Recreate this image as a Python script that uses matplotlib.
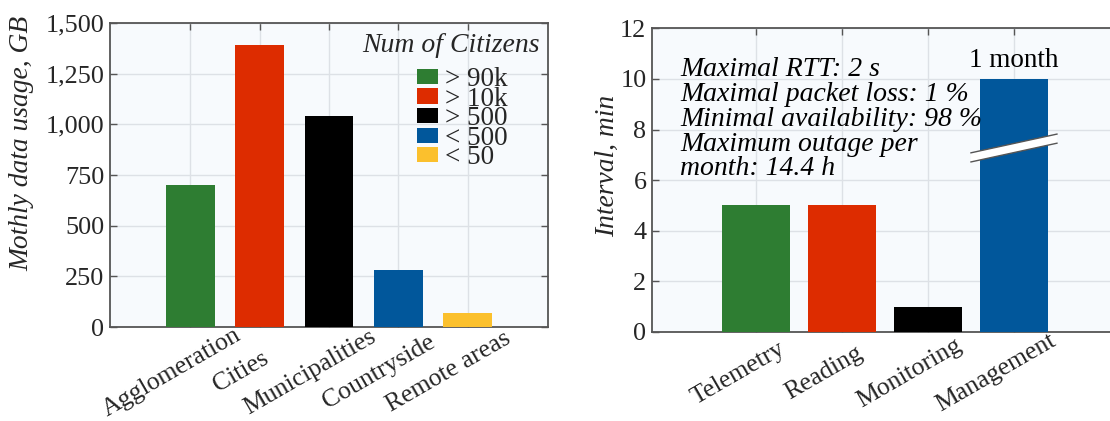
import matplotlib
matplotlib.use("Agg")
import matplotlib.pyplot as plt
from matplotlib.ticker import FuncFormatter, MultipleLocator
from matplotlib.transforms import ScaledTranslation
from matplotlib.patches import Polygon

# ---------------- data ----------------
areas = ["Agglomeration", "Cities", "Municipalities", "Countryside", "Remote areas"]
usage_gb = [700, 1390, 1040, 280, 70]
citizens = ["> 90k", "> 10k", "> 500", "< 500", "< 50"]

tasks = ["Telemetry", "Reading", "Monitoring", "Management"]
interval_min = [5, 5, 1, 10]
mgmt_note = "1 month"
requirements = ["Maximal RTT: 2 s", "Maximal packet loss: 1 %",
                "Minimal availability: 98 %", "Maximum outage per",
                "month: 14.4 h"]

colors5 = ["#2E7D32", "#DD2C00", "#000000", "#01579B", "#FBC02D"]
colors4 = ["#2E7D32", "#DD2C00", "#000000", "#01579B"]

# ---------------- style ----------------
plt.rcParams['font.family'] = ['Liberation Serif', 'DejaVu Serif']
TXT = "#262626"
BG = "#F7FAFD"
GRID = "#DDE1E6"
SPINE = "#555555"

fig = plt.figure(figsize=(11.10, 4.21), dpi=100)
W, H = 1110, 421


def ax_rect(l, t, r, b):
    return [l / W, (H - b) / H, (r - l) / W, (b - t) / H]


def style_axes(ax):
    ax.set_facecolor(BG)
    ax.set_axisbelow(True)
    ax.grid(True, color=GRID, linewidth=1.0)
    for s in ax.spines.values():
        s.set_color(SPINE)
        s.set_linewidth(1.3)
    ax.tick_params(direction='in', length=5, width=1.0, color=SPINE,
                   top=True, right=True, labelcolor=TXT)
    ax.tick_params(axis='y', labelsize=18.8, pad=4)


def rotate_labels(ax, fontsize, dx, dy):
    for lab in ax.get_xticklabels():
        lab.set_rotation(30)
        lab.set_rotation_mode('anchor')
        lab.set_ha('center')
        lab.set_va('center')
        lab.set_fontsize(fontsize)
        lab.set_transform(lab.get_transform() +
                          ScaledTranslation(dx / 100, dy / 100, fig.dpi_scale_trans))


# ---------------- left panel ----------------
ax1 = fig.add_axes(ax_rect(110, 23, 548, 327))
style_axes(ax1)
x1 = list(range(1, len(areas) + 1))
bars1 = ax1.bar(x1, usage_gb, width=0.7, color=colors5, zorder=3)
ax1.set_xlim(-0.16, 6.16)
ax1.set_ylim(0, 1500)
ax1.yaxis.set_major_locator(MultipleLocator(250))
ax1.yaxis.set_major_formatter(FuncFormatter(lambda v, p: f"{v:,.0f}"))
ax1.set_xticks(x1)
ax1.set_xticklabels(areas)
ax1.tick_params(axis='x', pad=0)
rotate_labels(ax1, 18.5, -19, -45)
ax1.set_ylabel("Mothly data usage, GB", fontsize=19.8, style='italic', color=TXT)
ax1.yaxis.set_label_coords(-0.1735, 0.605)

leg = ax1.legend(bars1, citizens, loc='upper left', bbox_to_anchor=(0.70, 0.855),
                 frameon=False, fontsize=19.5, handlelength=0.8, handleheight=0.48,
                 handletextpad=0.25, labelspacing=-0.2, borderpad=0, borderaxespad=0)
for t in leg.get_texts():
    t.set_color(TXT)
ax1.text(0.98, 0.925, "Num of Citizens", transform=ax1.transAxes, ha='right',
         va='center', fontsize=20, style='italic', color=TXT)

# ---------------- right panel ----------------
ax2 = fig.add_axes(ax_rect(652, 28.3, 1118, 332))
style_axes(ax2)
x2 = list(range(1, len(tasks) + 1))
bars2 = ax2.bar(x2, interval_min, width=0.8, color=colors4, zorder=3)
ax2.set_xlim(-0.21, 5.21)
ax2.set_ylim(0, 12)
ax2.yaxis.set_major_locator(MultipleLocator(2))
ax2.set_xticks(x2)
ax2.set_xticklabels(tasks)
ax2.tick_params(axis='x', pad=0)
rotate_labels(ax2, 18.5, -18, -41)
ax2.set_ylabel("Interval, min", fontsize=19.8, style='italic', color=TXT)
ax2.yaxis.set_label_coords(-0.0687, 0.547)

# annotation on management bar
xm = x2[-1]
ax2.annotate(mgmt_note, (xm, interval_min[-1]), xytext=(0, 4),
             textcoords='offset points', ha='center', va='bottom',
             fontsize=19.5, color='black')

# axis-break mark across management bar
yb, half, rise, hw = 7.27, 0.18, 0.74, 0.5
poly = Polygon([(xm - hw, yb - rise / 2 - half), (xm + hw, yb + rise / 2 - half),
                (xm + hw, yb + rise / 2 + half), (xm - hw, yb - rise / 2 + half)],
               closed=True, facecolor='white', edgecolor='none', zorder=4)
ax2.add_patch(poly)
for s in (-half, half):
    ax2.plot([xm - hw, xm + hw], [yb - rise / 2 + s, yb + rise / 2 + s],
             color=SPINE, linewidth=1.0, zorder=5)

ax2.text(0.06, 0.905, "\n".join(requirements), transform=ax2.transAxes,
         ha='left', va='top', fontsize=20, style='italic', color='black',
         linespacing=0.99)

fig.savefig("out.png", dpi=100)
